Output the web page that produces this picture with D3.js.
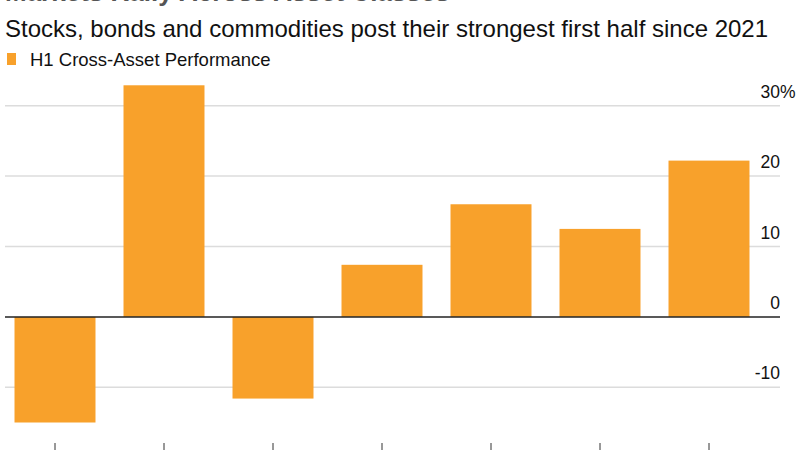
<!DOCTYPE html>
<html>
<head>
<meta charset="utf-8">
<script src="https://cdn.jsdelivr.net/npm/d3@7"></script>
<style>
  body { margin: 0; background: #fff; }
  svg { display: block; font-family: "Liberation Sans", Arial, sans-serif; }
</style>
</head>
<body>
<svg id="chart" width="800" height="450"></svg>
<script>
// H1 cross-asset performance, % change
const categories = ["Asset 1", "Asset 2", "Asset 3", "Asset 4", "Asset 5", "Asset 6", "Asset 7"];
const values = [-15.0, 32.9, -11.6, 7.4, 16.0, 12.5, 22.2];
const yTicks = [-10, 0, 10, 20, 30];

const BAR = "#f8a12b";

const svg = d3.select("#chart");

// headline sits mostly above the frame, only its bottom edge shows
svg.append("text")
  .attr("x", 5).attr("y", 0.5)
  .attr("font-size", 26).attr("font-weight", "bold").attr("fill", "#555")
  .text("Markets Rally Across Asset Classes");

svg.append("text")
  .attr("x", 5).attr("y", 37)
  .attr("font-size", 24).attr("fill", "#111")
  .text("Stocks, bonds and commodities post their strongest first half since 2021");

// legend
svg.append("rect").attr("x", 7).attr("y", 53).attr("width", 9).attr("height", 12).attr("fill", BAR);
svg.append("text")
  .attr("x", 30).attr("y", 66)
  .attr("font-size", 18.5).attr("fill", "#111")
  .text("H1 Cross-Asset Performance");

const x = d3.scaleBand().domain(categories).range([0.5, 763.5])
  .paddingInner(0.257).paddingOuter(0.1285);
const y = d3.scaleLinear().domain([-10, 30]).range([387.3, 105.7]);

// gridlines
svg.append("g").selectAll("line")
  .data(yTicks.filter(d => d !== 0)).enter().append("line")
  .attr("x1", 5).attr("x2", 780)
  .attr("y1", d => y(d)).attr("y2", d => y(d))
  .attr("stroke", "#dcdcdc").attr("stroke-width", 1.5);

// bars
svg.append("g").selectAll("rect")
  .data(values).enter().append("rect")
  .attr("x", (d, i) => x(categories[i]))
  .attr("width", x.bandwidth())
  .attr("y", d => y(Math.max(0, d)))
  .attr("height", d => Math.abs(y(d) - y(0)))
  .attr("fill", BAR);

// zero line
svg.append("line")
  .attr("x1", 5).attr("x2", 780)
  .attr("y1", y(0)).attr("y2", y(0))
  .attr("stroke", "#222").attr("stroke-width", 1.5);

// right axis labels
const lab = svg.append("g").selectAll("g")
  .data(yTicks).enter().append("g");
lab.append("text")
  .attr("x", 780).attr("y", d => y(d) - 8)
  .attr("text-anchor", "end")
  .attr("font-size", 17.5).attr("fill", "#111")
  .text(d => d);
lab.filter(d => d === 30).append("text")
  .attr("x", 780).attr("y", d => y(d) - 8)
  .attr("font-size", 17.5).attr("fill", "#111")
  .text("%");

// bottom axis ticks only; the category labels are below the frame
const xAxis = d3.axisBottom(x).tickSize(10).tickFormat("");
const gx = svg.append("g").attr("transform", "translate(0,443)").call(xAxis);
gx.select(".domain").remove();
gx.selectAll(".tick line").attr("stroke", "#333");
</script>
</body>
</html>
